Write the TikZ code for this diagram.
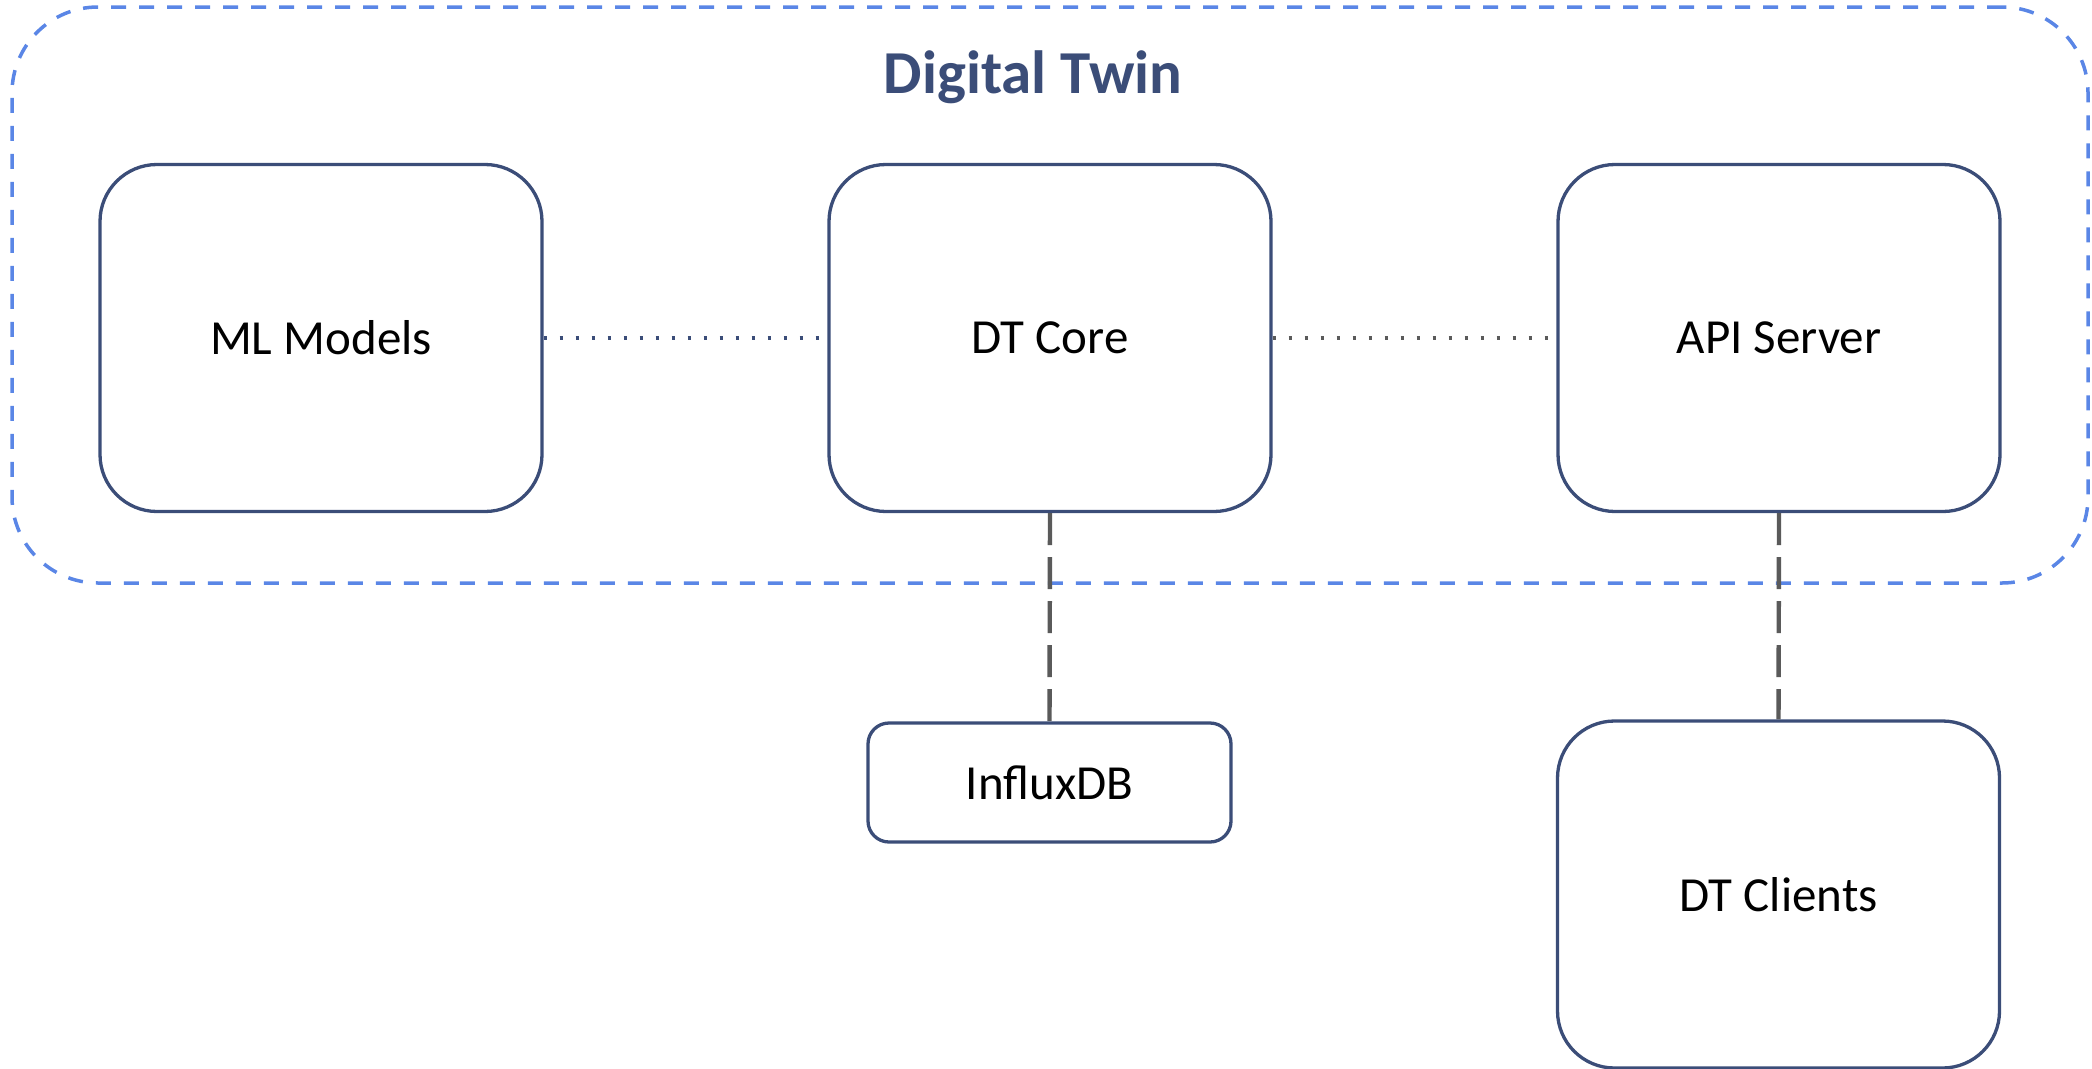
\documentclass[tikz,border=0pt]{standalone}
\usepackage{fontspec}
\setmainfont{Carlito}
\definecolor{navy}{HTML}{3B4D78}
\definecolor{twinblue}{HTML}{5A86E6}
\definecolor{linkgray}{HTML}{5A5A5A}
\tikzset{
  component/.style={draw=navy, line width=3.3pt, fill=white, rounded corners=57pt,
    minimum width=442pt, minimum height=347pt, inner sep=0pt,
    font=\fontsize{49}{57}\selectfont, text=black},
  store/.style={component, rounded corners=21pt, minimum width=363pt, minimum height=119pt},
  twinbox/.style={draw=twinblue, line width=3.5pt, rounded corners=86pt,
    dash pattern=on 15pt off 13pt, minimum width=2076pt, minimum height=576pt, inner sep=0pt},
  title/.style={font=\fontsize{61}{70}\selectfont\bfseries, text=navy},
  dotlink/.style={line width=3.8pt, dash pattern=on 3.8pt off 12.2pt},
  dashlink/.style={draw=linkgray, line width=4.4pt, dash pattern=on 32pt off 12pt}
}
\begin{document}
\begin{tikzpicture}[x=1pt, y=-1pt]
  \useasboundingbox (0,0) rectangle (2092,1068);

  % Digital Twin boundary and its heading
  \node[twinbox] (twin) at (1050,295) {};
  \node[title, anchor=base] (twintitle) at (1033,93) {Digital Twin};

  % components inside the twin
  \node[component] (ml)   at (321,338)  {ML Models};
  \node[component] (core) at (1050,338) {DT Core};
  \node[component] (api)  at (1779,338) {API Server};

  % components outside the twin
  \node[store]     (influx)  at (1049.5,782.5) {InfluxDB};
  \node[component] (clients) at (1778.5,894.5) {DT Clients};

  % links
  \draw[dotlink, draw=navy]     (ml.east)   -- (core.west);
  \draw[dotlink, draw=linkgray] (core.east) -- (api.west);
  \draw[dashlink] (core.south) -- (influx.north);
  \draw[dashlink] (api.south)  -- (clients.north);
\end{tikzpicture}
\end{document}
